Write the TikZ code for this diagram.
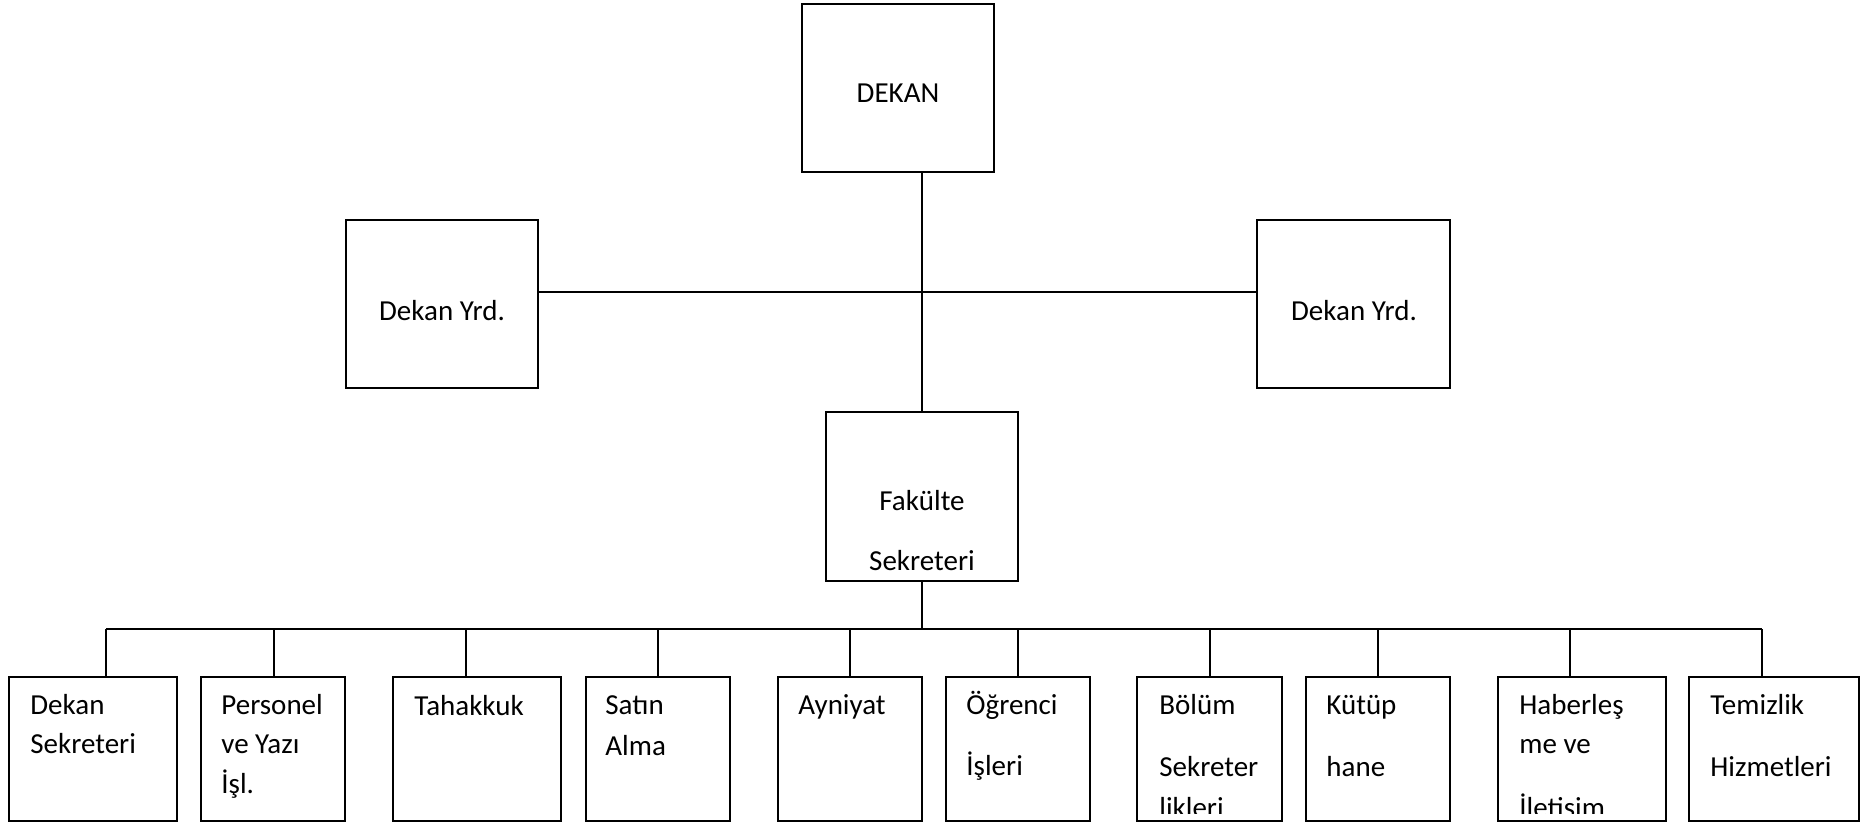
\documentclass[tikz,border=0pt]{standalone}
\usepackage{fontspec}
\setmainfont{Carlito}
\begin{document}
\begin{tikzpicture}[x=0.5pt,y=-0.5pt,
  box/.style={draw=black,line width=1.2pt,rectangle,inner sep=0pt,fill=none},
  bigbox/.style={box,minimum width=96pt,minimum height=84pt},
  lowbox/.style={box,minimum height=72pt},
  conn/.style={draw=black,line width=1pt},
  lbl/.style={inner sep=0pt,font=\fontsize{14.5pt}{17pt}\selectfont},
  lw/.style={lbl,anchor=base west},
  lc/.style={lbl,anchor=base}]
\useasboundingbox (0,0) rectangle (1861,825);
% upper boxes
\node[bigbox] (dekan) at (898,88) {};
\node[bigbox] (yrdL) at (442,304) {};
\node[bigbox,minimum width=96.5pt] (yrdR) at (1353.5,304) {};
\node[bigbox,minimum height=84.5pt] (fak) at (922,496.5) {};
\node[lc] (tdekan) at (898,102) {DEKAN};
\node[lc] (tyrdL) at (442,320) {Dekan Yrd.};
\node[lc] (tyrdR) at (1354,320) {Dekan Yrd.};
\node[lc] (tfak1) at (922,510) {Fakülte};
\node[lc] (tfak2) at (922,570) {Sekreteri};
% lower boxes
\node[lowbox,minimum width=84pt] (b1) at (93,749) {};
\node[lowbox,minimum width=72pt] (b2) at (273,749) {};
\node[lowbox,minimum width=84pt] (b3) at (477,749) {};
\node[lowbox,minimum width=72pt] (b4) at (658,749) {};
\node[lowbox,minimum width=72pt] (b5) at (850,749) {};
\node[lowbox,minimum width=72pt] (b6) at (1018,749) {};
\node[lowbox,minimum width=72.5pt] (b7) at (1209.5,749) {};
\node[lowbox,minimum width=72pt] (b8) at (1378,749) {};
\node[lowbox,minimum width=84pt] (b9) at (1582,749) {};
\node[lowbox,minimum width=85pt] (b10) at (1774,749) {};
% connectors top
\coordinate (hl) at (922,292);
\draw[conn] (dekan.south -| fak.north) -- (fak.north);
\draw[conn] (hl -| yrdL.east) -- (hl -| yrdR.west);
% bus
\coordinate (bus) at (922,629);
\coordinate (c1) at ([xshift=6.5pt]b1.north);
\coordinate (c2) at ([xshift=0.5pt]b2.north);
\coordinate (c3) at ([xshift=-5.5pt]b3.north);
\coordinate (c4) at (b4.north);
\coordinate (c5) at (b5.north);
\coordinate (c6) at (b6.north);
\coordinate (c7) at ([xshift=0.25pt]b7.north);
\coordinate (c8) at (b8.north);
\coordinate (c9) at ([xshift=-6pt]b9.north);
\coordinate (c10) at ([xshift=-6pt]b10.north);
\draw[conn] (fak.south) -- (bus);
\draw[conn] (bus -| c1) -- (bus -| c10);
\foreach \i in {1,...,10} {\draw[conn] (c\i) -- (c\i |- bus);}
% lower texts
\node[lw] (t1a) at (30,714) {Dekan};
\node[lw] (t1b) at (30,753) {Sekreteri};
\node[lw] (t2a) at (221,714) {Personel};
\node[lw] (t2b) at (221,753) {ve Yazı};
\node[lw] (t2c) at (221,793) {İşl.};
\node[lw] (t3a) at (414,715) {Tahakkuk};
\node[lw] (t4a) at (605,714) {Satın};
\node[lw] (t4b) at (605,755) {Alma};
\node[lw] (t5a) at (798,714) {Ayniyat};
\node[lw] (t6a) at (966,714) {Öğrenci};
\node[lw] (t6b) at (966,775) {İşleri};
\node[lw] (t7a) at (1159,714) {Bölüm};
\node[lw] (t7b) at (1159,776) {Sekreter};
\begin{scope}
\clip (b7.north west) rectangle ([yshift=4.5pt]b7.south east);
\node[lw] (t7c) at (1159,817) {likleri};
\end{scope}
\node[lw] (t8a) at (1326,714) {Kütüp};
\node[lw] (t8b) at (1326,776) {hane};
\node[lw] (t9a) at (1519,714) {Haberleş};
\node[lw] (t9b) at (1519,753) {me ve};
\begin{scope}
\clip (b9.north west) rectangle ([yshift=4.5pt]b9.south east);
\node[lw] (t9c) at (1519,817) {İletişim};
\end{scope}
\node[lw] (t10a) at (1710,714) {Temizlik};
\node[lw] (t10b) at (1710,776) {Hizmetleri};
\end{tikzpicture}
\end{document}
